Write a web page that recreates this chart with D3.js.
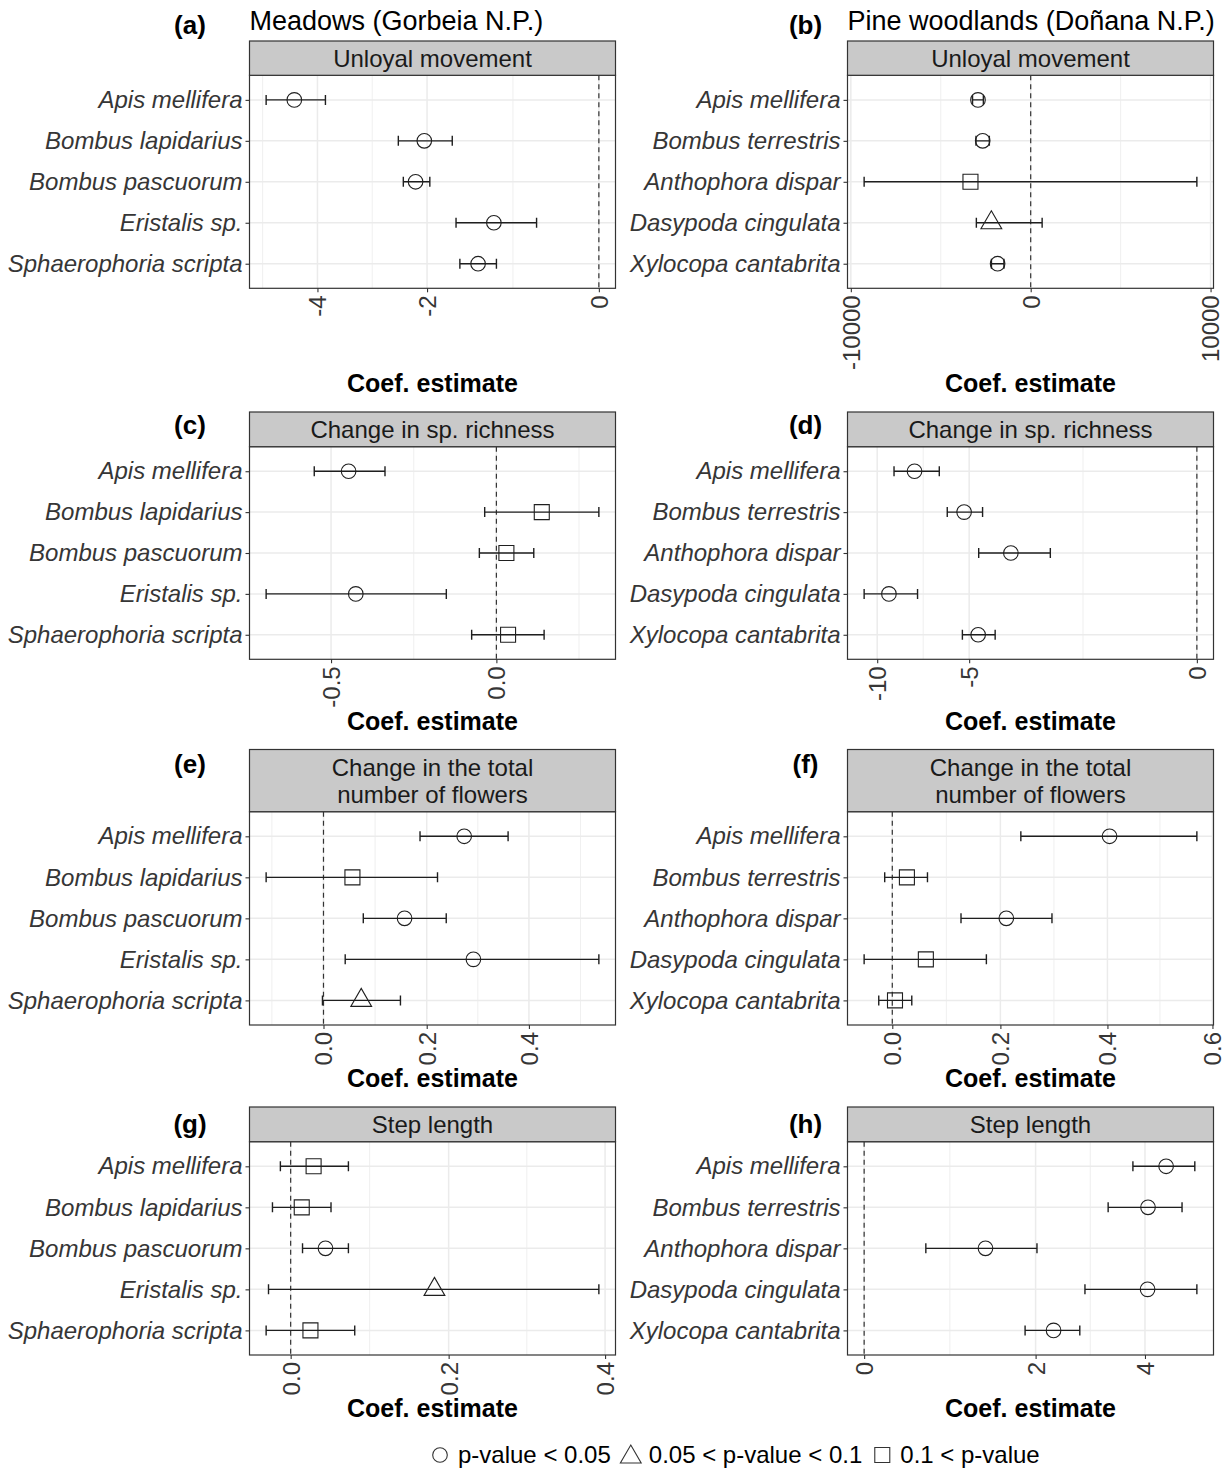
<!DOCTYPE html>
<html>
<head>
<meta charset="utf-8">
<script src="https://cdn.jsdelivr.net/npm/d3@7"></script>
<style>
  body { margin: 0; background: #fff; }
  svg text { font-family: "Liberation Sans", Arial, Helvetica, sans-serif; }
</style>
</head>
<body>
<svg id="fig" width="1228" height="1472"></svg>
<script>
// ---- species ----
const speciesMeadows = ["Apis mellifera", "Bombus lapidarius", "Bombus pascuorum", "Eristalis sp.", "Sphaerophoria scripta"];
const speciesPine = ["Apis mellifera", "Bombus terrestris", "Anthophora dispar", "Dasypoda cingulata", "Xylocopa cantabrita"];

// p-value classes: "p05" = p < 0.05, "p10" = 0.05 < p < 0.1, "ns" = 0.1 < p
// ---- (a) Unloyal movement, meadows ----
const unloyalMeadowsEst  = [-4.56, -2.04, -2.17, -1.13, -1.32];
const unloyalMeadowsLow  = [-5.33, -2.44, -2.36, -1.60, -1.55];
const unloyalMeadowsHigh = [-3.82, -1.65, -1.96, -0.65, -1.10];
const unloyalMeadowsP    = ["p05", "p05", "p05", "p05", "p05"];
const unloyalMeadowsTicks = ["-4", "-2", "0"];

// ---- (b) Unloyal movement, pine woodlands ----
const unloyalPineEst  = [-14.8, -11.6, -21.8, -7.37, -5.26];
const unloyalPineLow  = [-19.6, -16.4, -5058, -16.1, -7.33];
const unloyalPineHigh = [-11.2, -8.19, 4958, 1.24, -3.68];
const unloyalPineP    = ["p05", "p05", "ns", "p10", "p05"];
const unloyalPineTicks = ["-10000", "0", "10000"];

// ---- (c) Change in sp. richness, meadows ----
const richnessMeadowsEst  = [-0.446, 0.136, 0.030, -0.424, 0.035];
const richnessMeadowsLow  = [-0.552, -0.035, -0.051, -0.703, -0.074];
const richnessMeadowsHigh = [-0.335, 0.308, 0.112, -0.150, 0.143];
const richnessMeadowsP    = ["p05", "ns", "ns", "p05", "ns"];
const richnessMeadowsTicks = ["-0.5", "0.0"];

// ---- (d) Change in sp. richness, pine woodlands ----
const richnessPineEst  = [-7.58, -5.20, -3.58, -9.17, -4.66];
const richnessPineLow  = [-8.83, -5.92, -4.64, -11.01, -5.27];
const richnessPineHigh = [-6.29, -4.50, -2.54, -7.41, -4.07];
const richnessPineP    = ["p05", "p05", "p05", "p05", "p05"];
const richnessPineTicks = ["-10", "-5", "0"];

// ---- (e) Change in the total number of flowers, meadows ----
const flowersMeadowsEst  = [0.273, 0.056, 0.157, 0.291, 0.073];
const flowersMeadowsLow  = [0.187, -0.111, 0.077, 0.042, -0.002];
const flowersMeadowsHigh = [0.359, 0.221, 0.238, 0.539, 0.149];
const flowersMeadowsP    = ["p05", "ns", "p05", "p05", "p10"];
const flowersMeadowsTicks = ["0.0", "0.2", "0.4"];

// ---- (f) Change in the total number of flowers, pine woodlands ----
const flowersPineEst  = [0.404, 0.027, 0.211, 0.062, 0.005];
const flowersPineLow  = [0.238, -0.014, 0.127, -0.052, -0.025];
const flowersPineHigh = [0.570, 0.065, 0.296, 0.174, 0.036];
const flowersPineP    = ["p05", "ns", "p05", "ns", "ns"];
const flowersPineTicks = ["0.0", "0.2", "0.4", "0.6"];

// ---- (g) Step length, meadows ----
const stepMeadowsEst  = [0.029, 0.014, 0.044, 0.182, 0.025];
const stepMeadowsLow  = [-0.013, -0.023, 0.015, -0.028, -0.031];
const stepMeadowsHigh = [0.073, 0.051, 0.073, 0.392, 0.081];
const stepMeadowsP    = ["ns", "ns", "p05", "p10", "ns"];
const stepMeadowsTicks = ["0.0", "0.2", "0.4"];

// ---- (h) Step length, pine woodlands ----
const stepPineEst  = [4.51, 4.07, 1.33, 4.06, 2.27];
const stepPineLow  = [3.73, 3.22, 0.645, 2.79, 1.85];
const stepPineHigh = [5.29, 4.93, 2.02, 5.35, 2.70];
const stepPineP    = ["p05", "p05", "p05", "p05", "p05"];
const stepPineTicks = ["0", "2", "4"];

// ---- text ----
const siteTitles = ["Meadows (Gorbeia N.P.)", "Pine woodlands (Doñana N.P.)"];
const stripLabels = [["Unloyal movement"], ["Change in sp. richness"], ["Change in the total", "number of flowers"], ["Step length"]];
const panelTags = [["(a)", "(b)"], ["(c)", "(d)"], ["(e)", "(f)"], ["(g)", "(h)"]];
const axisTitle = "Coef. estimate";
const legendLabels = ["p-value < 0.05", "0.05 < p-value < 0.1", "0.1 < p-value"];
const legendKeys = ["p05", "p10", "ns"];

// ---- panels (row, column) ----
const panels = [
  [0, 0, speciesMeadows, unloyalMeadowsEst, unloyalMeadowsLow, unloyalMeadowsHigh, unloyalMeadowsP, unloyalMeadowsTicks],
  [0, 1, speciesPine, unloyalPineEst, unloyalPineLow, unloyalPineHigh, unloyalPineP, unloyalPineTicks],
  [1, 0, speciesMeadows, richnessMeadowsEst, richnessMeadowsLow, richnessMeadowsHigh, richnessMeadowsP, richnessMeadowsTicks],
  [1, 1, speciesPine, richnessPineEst, richnessPineLow, richnessPineHigh, richnessPineP, richnessPineTicks],
  [2, 0, speciesMeadows, flowersMeadowsEst, flowersMeadowsLow, flowersMeadowsHigh, flowersMeadowsP, flowersMeadowsTicks],
  [2, 1, speciesPine, flowersPineEst, flowersPineLow, flowersPineHigh, flowersPineP, flowersPineTicks],
  [3, 0, speciesMeadows, stepMeadowsEst, stepMeadowsLow, stepMeadowsHigh, stepMeadowsP, stepMeadowsTicks],
  [3, 1, speciesPine, stepPineEst, stepPineLow, stepPineHigh, stepPineP, stepPineTicks]
].map(([row, col, species, est, low, high, p, ticks]) => ({
  row, col,
  data: species.map((s, i) => ({ species: s, est: est[i], low: low[i], high: high[i], p: p[i] })),
  species, ticks
}));

// ---- layout ----
const ROWS = [
  { strip: 41,    top: 75.3,   bottom: 288.3, title: 383,  tag: 34 },
  { strip: 412,   top: 446.7,  bottom: 659.3, title: 721,  tag: 433.5 },
  { strip: 749.5, top: 811.7,  bottom: 1025,  title: 1078, tag: 773 },
  { strip: 1107,  top: 1141.7, bottom: 1355,  title: 1408, tag: 1133 }
];
const COLS = [
  { x0: 249.5, x1: 615.5, tagX: 190 },
  { x0: 847.5, x1: 1213.5, tagX: 805.5 }
];

const INK = "#1f1f1f";
const BORDER = "#333333";
const GRID = "#ebebeb";
const AXIS_TXT = "#363636";

const svg = d3.select("#fig");
svg.append("rect").attr("width", 1228).attr("height", 1472).attr("fill", "#fff");

// pseudo-log transform (asinh(x / 2)), as used for the coefficient axis
const tf = v => Math.asinh(v / 2);

function minorBreaks(major, dom) {
  const b = major.slice();
  const bd = b[1] - b[0];
  if (dom[0] < b[0]) b.unshift(b[0] - bd);
  if (dom[1] > b[b.length - 1]) b.push(b[b.length - 1] + bd);
  const m = [];
  for (let i = 0; i < b.length - 1; i++) m.push((b[i] + b[i + 1]) / 2);
  return m.filter(v => v >= dom[0] && v <= dom[1]);
}

function shapePath(kind) {
  if (kind === "p05") return d3.symbol().type(d3.symbolCircle).size(Math.PI * 7.3 * 7.3)();
  if (kind === "ns") return "M-7.5,-7.5H7.5V7.5H-7.5Z";
  return "M0,-12L10.4,6L-10.4,6Z";
}

panels.forEach(p => {
  const R = ROWS[p.row], C = COLS[p.col];
  const g = svg.append("g");

  // x scale in transformed space, limits from data and the zero line, expanded 5%
  const tvals = p.data.flatMap(d => [d.low, d.high, d.est]).concat([0]).map(tf);
  const lo = d3.min(tvals), hi = d3.max(tvals);
  const pad = (hi - lo) * 0.05;
  const xt = d3.scaleLinear().domain([lo - pad, hi + pad]).range([C.x0, C.x1]);
  const x = v => xt(tf(v));

  const y = d3.scalePoint().domain(p.species).range([R.top, R.bottom]).padding(0.6);

  const majorT = p.ticks.map(Number).map(tf);
  const minorT = minorBreaks(majorT, xt.domain());

  // grid
  g.append("g").selectAll("line").data(minorT).join("line")
    .attr("x1", d => xt(d)).attr("x2", d => xt(d))
    .attr("y1", R.top).attr("y2", R.bottom)
    .attr("stroke", GRID).attr("stroke-width", 0.8);
  g.append("g").selectAll("line").data(majorT).join("line")
    .attr("x1", d => xt(d)).attr("x2", d => xt(d))
    .attr("y1", R.top).attr("y2", R.bottom)
    .attr("stroke", GRID).attr("stroke-width", 1.5);
  g.append("g").selectAll("line").data(p.species).join("line")
    .attr("x1", C.x0).attr("x2", C.x1)
    .attr("y1", d => y(d)).attr("y2", d => y(d))
    .attr("stroke", GRID).attr("stroke-width", 1.5);

  // zero reference line
  g.append("line")
    .attr("x1", x(0)).attr("x2", x(0))
    .attr("y1", R.top).attr("y2", R.bottom)
    .attr("stroke", BORDER).attr("stroke-width", 1.2)
    .attr("stroke-dasharray", "5,4");

  // error bars
  const eb = g.append("g").attr("stroke", INK).attr("stroke-width", 1.4).attr("fill", "none");
  eb.selectAll("path").data(p.data).join("path")
    .attr("d", d => {
      const yy = y(d.species), a = x(d.low), b = x(d.high);
      return `M${a},${yy}H${b}M${a},${yy - 5}V${yy + 5}M${b},${yy - 5}V${yy + 5}`;
    });

  // point estimates
  g.append("g").selectAll("path").data(p.data).join("path")
    .attr("transform", d => `translate(${x(d.est)},${y(d.species)})`)
    .attr("d", d => shapePath(d.p))
    .attr("fill", "none").attr("stroke", INK).attr("stroke-width", 1.1);

  // panel border
  g.append("rect")
    .attr("x", C.x0).attr("y", R.top)
    .attr("width", C.x1 - C.x0).attr("height", R.bottom - R.top)
    .attr("fill", "none").attr("stroke", BORDER).attr("stroke-width", 1.2);

  // strip
  g.append("rect")
    .attr("x", C.x0).attr("y", R.strip)
    .attr("width", C.x1 - C.x0).attr("height", R.top - R.strip)
    .attr("fill", "#c9c9c9").attr("stroke", BORDER).attr("stroke-width", 1.2);
  const lines = stripLabels[p.row];
  const sc = (R.strip + R.top) / 2;
  g.append("g").selectAll("text").data(lines).join("text")
    .attr("x", (C.x0 + C.x1) / 2)
    .attr("y", (d, i) => sc + (i - (lines.length - 1) / 2) * 27)
    .attr("dy", "0.35em")
    .attr("text-anchor", "middle")
    .attr("font-size", 24).attr("fill", "#1a1a1a")
    .text(d => d);

  // y axis
  g.append("g").attr("transform", `translate(${C.x0},0)`)
    .call(d3.axisLeft(y).tickSize(4).tickPadding(3))
    .call(a => a.attr("font-family", null).attr("font-size", 24))
    .call(a => a.select(".domain").remove())
    .call(a => a.selectAll(".tick line").attr("stroke", BORDER).attr("stroke-width", 1.1))
    .call(a => a.selectAll(".tick text").attr("font-style", "italic").attr("fill", AXIS_TXT));

  // x axis
  g.append("g").attr("transform", `translate(0,${R.bottom})`)
    .call(d3.axisBottom(xt).tickValues(majorT).tickFormat((d, i) => p.ticks[i]).tickSize(4).tickPadding(0))
    .call(a => a.attr("font-family", null).attr("font-size", 24))
    .call(a => a.select(".domain").remove())
    .call(a => a.selectAll(".tick line").attr("stroke", BORDER).attr("stroke-width", 1.1))
    .call(a => a.selectAll(".tick text")
      .attr("transform", "rotate(-90)")
      .attr("text-anchor", "end")
      .attr("x", -7).attr("y", 0).attr("dy", "0.35em")
      .attr("fill", AXIS_TXT));

  // axis title
  g.append("text")
    .attr("x", (C.x0 + C.x1) / 2).attr("y", R.title).attr("dy", "0.35em")
    .attr("text-anchor", "middle")
    .attr("font-size", 25).attr("font-weight", "bold").attr("fill", "#000")
    .text(axisTitle);

  // tag
  g.append("text")
    .attr("x", C.tagX).attr("y", R.tag)
    .attr("text-anchor", "middle")
    .attr("font-size", 26).attr("font-weight", "bold").attr("fill", "#000")
    .text(panelTags[p.row][p.col]);

  // site title above the top row
  if (p.row === 0) {
    g.append("text")
      .attr("x", C.x0).attr("y", 30)
      .attr("font-size", 27).attr("fill", "#000")
      .text(siteTitles[p.col]);
  }
});

// ---- legend ----
const leg = svg.append("g").attr("transform", "translate(0,1455)");
let cx = 440;
legendKeys.forEach((k, i) => {
  leg.append("path")
    .attr("transform", `translate(${cx},${k === "p10" ? 2 : 0})`)
    .attr("d", shapePath(k))
    .attr("fill", "none").attr("stroke", "#333").attr("stroke-width", 1.1);
  const t = leg.append("text")
    .attr("x", cx + 18).attr("y", 0).attr("dy", "0.35em")
    .attr("font-size", 24).attr("fill", "#000")
    .text(legendLabels[i]);
  cx = cx + 18 + t.node().getComputedTextLength() + 20;
});
</script>
</body>
</html>
